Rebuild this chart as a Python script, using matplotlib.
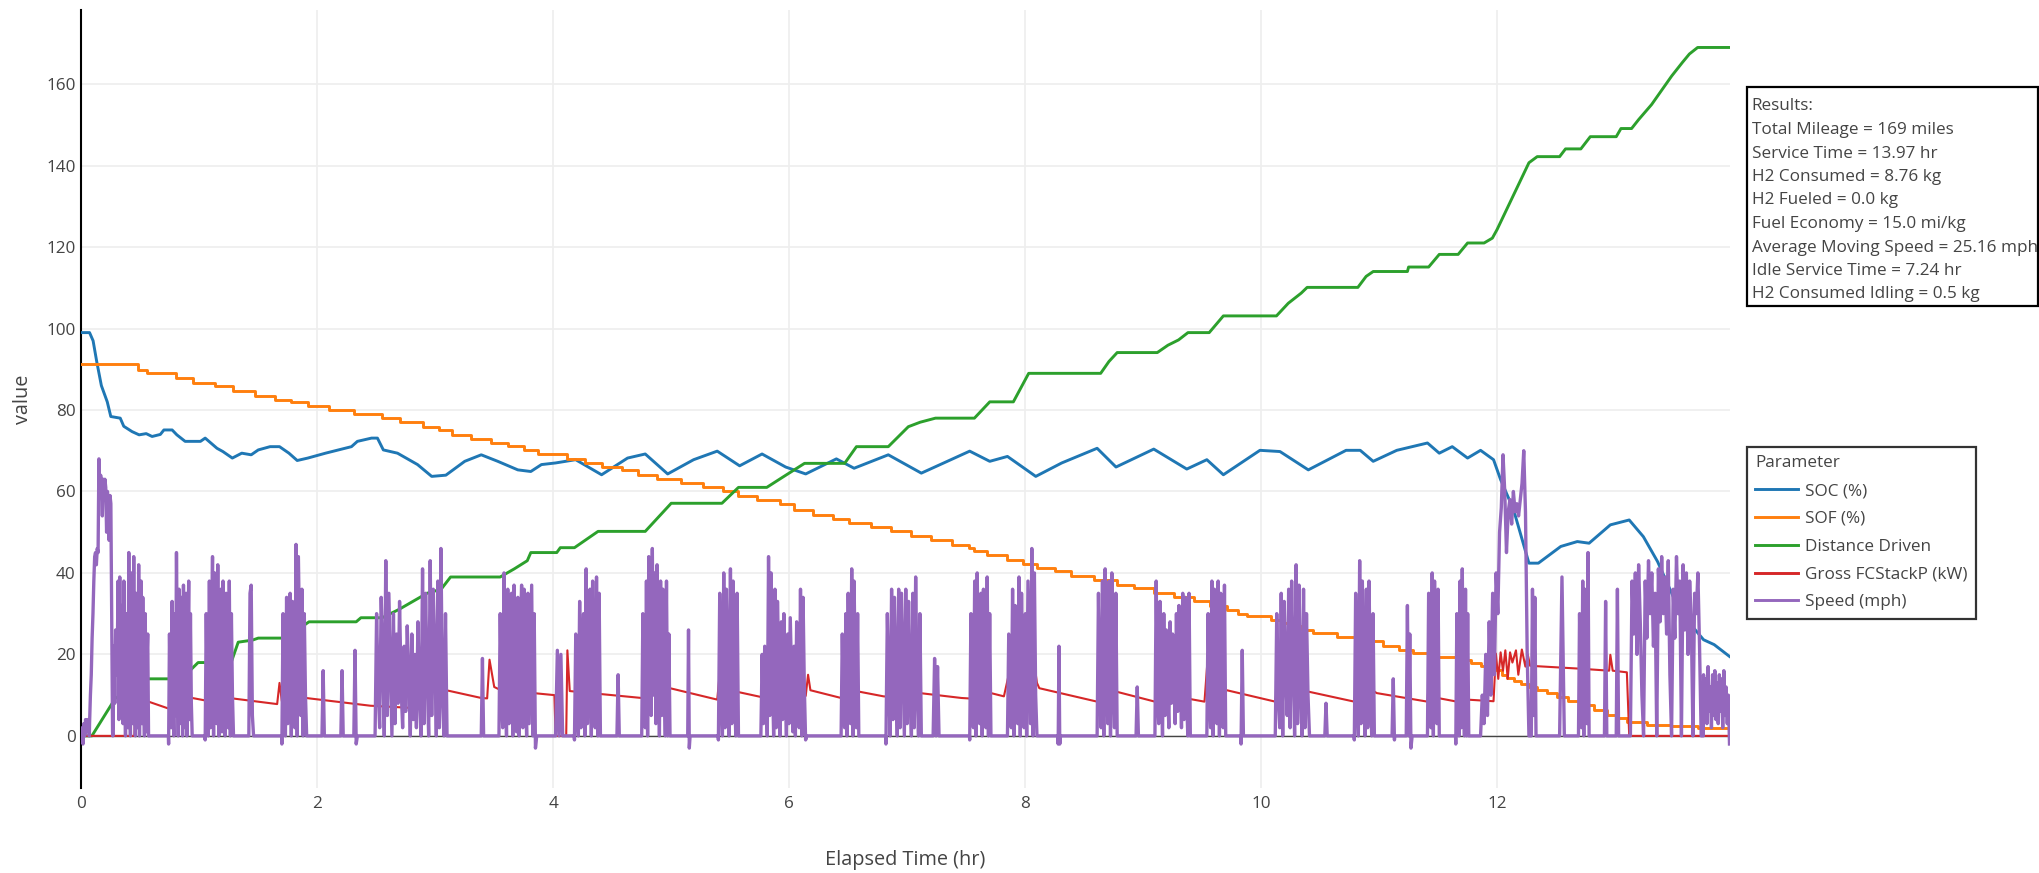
import numpy as np
import matplotlib
matplotlib.use("Agg")
import matplotlib.pyplot as plt
from matplotlib.lines import Line2D
from matplotlib.patches import Rectangle

plt.rcParams['font.family'] = ['Open Sans', 'DejaVu Sans']

# ---------------- data ----------------
series_names = ["SOC (%)", "SOF (%)", "Distance Driven", "Gross FCStackP (kW)", "Speed (mph)"]
series_colors = ["#1f77b4", "#ff7f0e", "#2ca02c", "#d62728", "#9467bd"]

soc_points = [
    (0, 99), (0.07, 99), (0.10, 97), (0.13, 92), (0.17, 86), (0.22, 82), (0.25, 78.4), (0.33, 78),
    (0.36, 76), (0.43, 74.7), (0.49, 73.9), (0.55, 74.2), (0.60, 73.5), (0.67, 74), (0.70, 75.1),
    (0.77, 75.1), (0.81, 73.9), (0.88, 72.3), (1.01, 72.3), (1.05, 73.1), (1.15, 70.6), (1.20, 69.8),
    (1.28, 68.2), (1.36, 69.4), (1.44, 69.0), (1.50, 70.2), (1.60, 71), (1.68, 71), (1.76, 69.4),
    (1.83, 67.6), (1.92, 68.2), (2.07, 69.4), (2.29, 71), (2.34, 72.3), (2.46, 73.1), (2.51, 73.1),
    (2.56, 70.2), (2.68, 69.4), (2.85, 66.6), (2.97, 63.7), (3.09, 64), (3.25, 67.4), (3.39, 69),
    (3.53, 67.4), (3.70, 65.3), (3.81, 64.9), (3.90, 66.6), (4.02, 67), (4.19, 67.8), (4.41, 64.1),
    (4.63, 68.2), (4.78, 69.2), (4.97, 64.3), (5.19, 67.8), (5.39, 69.9), (5.58, 66.3), (5.77, 69.2),
    (5.97, 66), (6.14, 64.3), (6.40, 68), (6.55, 65.7), (6.84, 69), (7.12, 64.5), (7.31, 67),
    (7.53, 69.9), (7.70, 67.4), (7.85, 68.6), (8.09, 63.7), (8.31, 67), (8.61, 70.6), (8.77, 66),
    (9.09, 70.4), (9.37, 65.5), (9.54, 67.8), (9.68, 64.1), (9.99, 70.1), (10.16, 69.8), (10.40, 65.3),
    (10.72, 70.1), (10.84, 70.1), (10.95, 67.4), (11.15, 70.1), (11.41, 71.9), (11.51, 69.4),
    (11.62, 71), (11.75, 68.2), (11.86, 70.1), (11.97, 67.8), (12.03, 62.9), (12.14, 55.5),
    (12.27, 42.4), (12.35, 42.4), (12.54, 46.5), (12.68, 47.7), (12.78, 47.3), (12.96, 51.8),
    (13.12, 53), (13.24, 48.9), (13.36, 42.8), (13.55, 30.5), (13.75, 23.6), (13.84, 22.4), (13.97, 19.5),
]

sof_steps = [
    (0.00, 91.2), (0.48, 89.8), (0.56, 89.1), (0.80, 87.9), (0.95, 86.7), (1.13, 85.9), (1.29, 84.7),
    (1.47, 83.5), (1.64, 82.5), (1.78, 81.9), (1.92, 81.0), (2.10, 80.0), (2.31, 79.0), (2.55, 78.0),
    (2.70, 77.0), (2.90, 75.9), (3.03, 75.0), (3.14, 73.9), (3.30, 72.9), (3.47, 72.0), (3.62, 71.1),
    (3.75, 70.1), (3.87, 69.2), (4.12, 68.0), (4.27, 67.0), (4.41, 66.0), (4.58, 65.2), (4.72, 64.1),
    (4.88, 63.0), (5.08, 62.1), (5.27, 61.1), (5.44, 60.0), (5.57, 58.8), (5.73, 57.8), (5.92, 56.8),
    (6.04, 55.5), (6.20, 54.3), (6.37, 53.2), (6.51, 52.2), (6.69, 51.3), (6.86, 50.2), (7.03, 49.1),
    (7.20, 48.0), (7.38, 46.9), (7.52, 46.1), (7.57, 45.3), (7.68, 44.5), (7.85, 43.2), (7.98, 42.2),
    (8.10, 41.2), (8.25, 40.4), (8.39, 39.3), (8.58, 38.2), (8.78, 37.1), (8.92, 36.3), (9.09, 35.1),
    (9.26, 34.1), (9.43, 33.0), (9.57, 32.0), (9.71, 30.8), (9.80, 30.0), (9.88, 29.4), (10.08, 28.4),
    (10.18, 27.6), (10.25, 26.9), (10.35, 26.0), (10.44, 25.3), (10.64, 24.3), (10.84, 23.2),
    (11.03, 22.1), (11.17, 21.1), (11.29, 20.3), (11.46, 19.4), (11.66, 18.6), (11.78, 17.8),
    (11.86, 17.2), (11.99, 16.2), (12.04, 15.0), (12.08, 14.1), (12.14, 13.4), (12.20, 12.7),
    (12.27, 12.0), (12.34, 11.3), (12.42, 10.4), (12.51, 9.6), (12.60, 8.6), (12.71, 7.6), (12.82, 6.4),
    (12.93, 5.2), (13.02, 4.3), (13.10, 3.5), (13.27, 2.7), (13.47, 2.3), (13.70, 1.9), (13.97, 1.9),
]

distance_points = [
    (0, 0), (0.09, 0), (0.29, 9.3), (0.35, 10), (0.45, 13), (0.57, 14), (0.85, 14), (0.99, 18),
    (1.27, 18), (1.33, 23), (1.45, 23.5), (1.50, 24), (1.73, 24), (1.93, 28), (2.33, 28), (2.37, 29),
    (2.55, 29), (2.69, 31), (2.81, 33), (2.93, 35), (3.05, 36), (3.13, 39), (3.55, 39), (3.67, 41),
    (3.78, 43), (3.81, 45), (4.03, 45), (4.06, 46.2), (4.18, 46.2), (4.38, 50.2), (4.78, 50.2),
    (5.00, 57.1), (5.43, 57.1), (5.57, 61), (5.81, 61), (5.95, 63.6), (6.13, 66.9), (6.47, 66.9),
    (6.57, 71), (6.84, 71), (7.01, 75.9), (7.11, 77), (7.24, 78), (7.57, 78), (7.70, 82), (7.90, 82),
    (8.03, 89), (8.64, 89), (8.71, 91.9), (8.78, 94.1), (9.12, 94.1), (9.21, 95.9), (9.30, 97.2),
    (9.38, 99), (9.56, 99), (9.68, 103.1), (10.13, 103.1), (10.23, 106.2), (10.34, 108.7),
    (10.39, 110.1), (10.82, 110.1), (10.89, 112.8), (10.95, 114), (11.24, 114), (11.25, 115.1),
    (11.42, 115.1), (11.51, 118.2), (11.67, 118.2), (11.75, 121), (11.89, 121), (11.96, 122.2),
    (12.00, 124.3), (12.27, 140.7), (12.34, 142.2), (12.53, 142.2), (12.58, 144.1), (12.71, 144.1),
    (12.79, 147.1), (13.01, 147.1), (13.05, 149.1), (13.14, 149.1), (13.20, 151.3), (13.31, 155),
    (13.48, 162), (13.57, 165.3), (13.63, 167.4), (13.70, 169), (13.97, 169),
]

fc_power_points = [
    (0, 0), (0.45, 0), (0.46, 9.5), (0.73, 6.8), (0.79, 6.7), (0.80, 12), (0.82, 7.5), (0.84, 15.5),
    (0.86, 8), (0.88, 16.5), (0.90, 9.5), (0.94, 9.3), (1.25, 7.6), (1.26, 16), (1.28, 9.2),
    (1.66, 7.8), (1.68, 13), (1.70, 8.5), (1.74, 12.5), (1.76, 9.8), (2.45, 7.4), (2.84, 6.8),
    (2.85, 19.5), (2.87, 12), (2.97, 14.3), (3.00, 11.8), (3.39, 9.3), (3.44, 9.2), (3.46, 18.7),
    (3.50, 12), (3.55, 11.3), (4.01, 10.0), (4.02, 0), (4.11, 0), (4.12, 21), (4.14, 11),
    (4.75, 9.3), (4.80, 9.2), (4.83, 20.2), (4.86, 15), (4.90, 19), (4.95, 12), (4.99, 11.7),
    (5.39, 8.9), (5.42, 17.8), (5.45, 11.5), (5.80, 9.3), (5.83, 19), (5.86, 11.2), (6.14, 9.8),
    (6.16, 15), (6.18, 11.2), (6.44, 9.3), (6.50, 9.2), (6.51, 20.2), (6.53, 11.2), (6.80, 9.7),
    (6.98, 9.3), (7.00, 15.4), (7.02, 10.8), (7.46, 9.3), (7.63, 9), (7.65, 19.3), (7.68, 11),
    (7.71, 10.5), (7.82, 9.7), (7.87, 16.2), (7.89, 10.5), (8.05, 10), (8.07, 19.3), (8.10, 13),
    (8.12, 11.7), (8.61, 8.4), (8.64, 16.9), (8.67, 11), (8.78, 10.8), (9.10, 8.4), (9.12, 10.5),
    (9.52, 8.4), (9.55, 20.2), (9.60, 12), (9.71, 11.2), (10.12, 8.4), (10.16, 17.8), (10.20, 11.5),
    (10.41, 10.8), (10.79, 8.4), (10.83, 17.2), (10.90, 12), (10.98, 10.5), (11.41, 8.4),
    (11.43, 17.2), (11.46, 9.5), (11.66, 8.4), (11.67, 18.4), (11.69, 9.0), (11.97, 8.5),
    (11.99, 20.2), (12.01, 14), (12.03, 20.5), (12.05, 16), (12.07, 21), (12.09, 14), (12.11, 20.5),
    (12.13, 18), (12.16, 21), (12.18, 15), (12.21, 21.2), (12.24, 17), (12.26, 20), (12.28, 17.2),
    (12.70, 16.5), (12.95, 16), (12.96, 19.9), (12.98, 16), (13.10, 15.6), (13.12, 0), (13.97, 0),
]

# speed driving bursts: (start hr, end hr, speed samples across the burst); speed is 0 between bursts
speed_bursts = [
    (0.00, 0.065, [0, 2, -2, 3, 0, 4, 1, 4, 2, 3]),
    (0.07, 0.265, [3, 10, 15, 24, 30, 38, 44, 45, 42, 46, 45, 68, 60, 64, 62, 54, 63, 58, 63, 61, 50,
                   60, 55, 48, 59, 57, 30, 1]),
    (0.27, 0.57, [2, 22, 8, 26, 15, 20, 38, 4, 39, 14, 32, 10, 3, 38, 12, 0, 30, 18, 2, 45, 10, 0, 40,
                  20, 3, 44, 8, 0, 35, 15, 2, 42, 0, 22, 38, 3, 34, 12, 0, 30, 1, 18, 25, 0]),
    (0.74, 0.94, [-2, 25, 10, 2, 33, 15, 0, 30, 5, 45, 20, 0, 36, 3, 25, 34, 0, 37, 12, 2, 35, 0, 22,
                  38, 4, 30, 8, 0]),
    (1.05, 1.29, [-1, 30, 10, 0, 38, 2, 25, 44, 0, 40, 15, 3, 42, 0, 28, 36, 1, 38, 12, 0, 35, 20, 2,
                  38, 0, 30, 10, 0]),
    (1.42, 1.46, [0, 35, 37, 5, 0]),
    (1.70, 1.91, [-2, 30, 8, 0, 34, 3, 20, 35, 0, 33, 15, 2, 47, 0, 44, 25, 5, 36, 0, 30, 10, 0]),
    (2.04, 2.06, [0, 16, 0]),
    (2.20, 2.22, [0, 16, 0]),
    (2.31, 2.34, [0, 21, -2, 0]),
    (2.49, 3.10, [0, 30, 12, 2, 34, 20, 0, 43, 5, 35, 18, 0, 30, 3, 25, 8, 33, 12, 2, 22, 6, 27, 15,
                  0, 25, 4, 20, 2, 28, 10, 0, 41, 3, 35, 15, 0, 43, 5, 36, 20, 0, 38, 2, 46, 10, 0,
                  30, 0]),
    (3.39, 3.41, [0, 19, 0]),
    (3.54, 3.86, [0, 30, 10, 2, 40, 15, 0, 36, 3, 22, 35, 0, 37, 12, 1, 34, 0, 25, 37, 2, 36, 10, 0,
                  35, 3, 20, 37, 0, 30, -3, 0]),
    (4.02, 4.08, [0, 21, 0, 20, 0]),
    (4.18, 4.40, [-1, 25, 8, 0, 33, 2, 20, 30, 0, 41, 3, 15, 36, 0, 38, 12, 2, 39, 0, 35, 0]),
    (4.54, 4.56, [0, 15, 0]),
    (4.75, 4.99, [0, 30, 12, 2, 38, 0, 44, 20, 5, 46, 10, 40, 3, 42, 25, 0, 38, 5, 36, 15, 0, 38, 0,
                  25, 0]),
    (5.14, 5.16, [0, 26, -3, 0]),
    (5.40, 5.57, [-1, 35, 10, 0, 40, 2, 36, 15, 0, 41, 3, 38, 12, 0, 35, 0]),
    (5.76, 6.15, [0, 20, 3, 22, 10, 0, 44, 5, 40, 15, 0, 36, 2, 33, 18, 0, 28, 4, 30, 12, 0, 25, 3,
                  29, 15, 1, 22, 0, 28, 10, 2, 36, 0, 34, 12, -1, 0]),
    (6.44, 6.59, [0, 25, 8, 2, 30, 0, 35, 12, 3, 41, 0, 38, 15, 2, 30, 0]),
    (6.82, 7.12, [-2, 30, 12, 0, 36, 4, 34, 15, 0, 36, 2, 35, 18, 0, 36, 3, 33, 10, 0, 35, 2, 39, 12,
                  0, 30, 0]),
    (7.22, 7.27, [0, 19, 0, 17, 0]),
    (7.53, 7.71, [-1, 30, 10, 2, 38, 0, 40, 15, 3, 35, 0, 36, 12, 2, 39, 0, 30, 0]),
    (7.85, 8.10, [0, 25, 10, 2, 36, 0, 32, 15, 3, 39, 0, 35, 12, 2, 30, 0, 38, 20, 3, 46, 0, 40, 10,
                  0]),
    (8.28, 8.30, [-2, 22, -2, 0]),
    (8.61, 8.78, [0, 35, 10, 2, 38, 0, 41, 15, 3, 38, 0, 40, 12, 2, 35, 0]),
    (8.94, 8.96, [0, 12, 0]),
    (9.10, 9.40, [0, 38, 10, 3, 33, 15, 0, 30, 5, 26, 12, 2, 28, 8, 25, 15, 3, 30, 6, 32, 18, 2, 35,
                  4, 34, 10, 0, 35, 0]),
    (9.54, 9.70, [0, 30, 10, 2, 38, 0, 36, 15, 3, 38, 0, 35, 12, 2, 37, 0]),
    (9.83, 9.85, [-2, 21, 0]),
    (10.12, 10.41, [0, 30, 10, 2, 35, 0, 33, 15, 5, 36, 2, 38, 18, 0, 42, 3, 37, 12, 0, 36, 2, 30,
                    10, 0]),
    (10.54, 10.56, [0, 8, 0]),
    (10.79, 10.96, [-1, 35, 10, 0, 43, 3, 38, 15, 0, 36, 2, 38, 12, 0, 30, 0]),
    (11.11, 11.13, [0, 14, -1]),
    (11.23, 11.28, [0, 32, 0, 25, -3, 0]),
    (11.41, 11.51, [0, 35, 10, 2, 40, 0, 38, 15, 3, 36, 0]),
    (11.65, 11.76, [-2, 30, 8, 0, 38, 2, 41, 12, 0, 36, 0, 30, 0]),
    (11.86, 12.27, [0, 10, 3, 20, 5, 28, 10, 35, 15, 40, 30, 50, 56, 69, 60, 45, 55, 58, 52, 60, 55,
                    57, 54, 58, 62, 70, 55, 20, 0]),
    (12.29, 12.33, [0, 36, 5, 34, 0]),
    (12.53, 12.57, [0, 39, 0]),
    (12.69, 12.78, [0, 30, 10, 2, 38, 0, 36, 15, 3, 45, 0]),
    (12.91, 12.93, [0, 33, 0]),
    (13.01, 13.03, [0, 36, 0]),
    (13.13, 13.73, [0, 38, 25, 40, 20, 42, 28, 10, 0, 38, 24, 43, 30, 40, 22, 35, 0, 41, 28, 44, 30,
                    39, 25, 43, 15, 0, 36, 24, 44, 30, 38, 0, 42, 26, 40, 20, 38, 28, 0, 35, 30, 40,
                    22, 0]),
    (13.75, 13.97, [15, 5, 14, 3, 17, 6, 12, 2, 15, 5, 16, 4, 13, 3, 15, 6, 14, 2, 16, 5, 12, 3, 10,
                    -2]),
]

results_lines = [
    "Results:",
    "Total Mileage = 169 miles",
    "Service Time = 13.97 hr",
    "H2 Consumed = 8.76 kg",
    "H2 Fueled = 0.0 kg",
    "Fuel Economy = 15.0 mi/kg",
    "Average Moving Speed = 25.16 mph",
    "Idle Service Time = 7.24 hr",
    "H2 Consumed Idling = 0.5 kg",
]

x_ticks = [0, 2, 4, 6, 8, 10, 12]
y_ticks = [0, 20, 40, 60, 80, 100, 120, 140, 160]
x_range = (0, 13.97)
y_range = (-12.8, 178.2)

# ---------------- build series ----------------
soc_t, soc_v = zip(*soc_points)
sof_t, sof_v = zip(*sof_steps)
dist_t, dist_v = zip(*distance_points)
fc_t, fc_v = zip(*fc_power_points)

spd_t, spd_v = [], []
for s, e, vals in speed_bursts:
    spd_t.append(s - 0.002)
    spd_v.append(0)
    spd_t.extend(np.linspace(s, e, len(vals)))
    spd_v.extend(vals)
    if e < x_range[1]:
        spd_t.append(e + 0.002)
        spd_v.append(0)

# ---------------- figure ----------------
W, H = 2039, 873
fig = plt.figure(figsize=(W / 100, H / 100), dpi=100)
ax_l, ax_r, ax_t, ax_b = 81.3, 1729.5, 10.0, 788.0
ax = fig.add_axes([ax_l / W, 1 - ax_b / H, (ax_r - ax_l) / W, (ax_b - ax_t) / H])

text_color = "#444444"
lw = 2.1
ax.plot(soc_t, soc_v, color=series_colors[0], lw=lw, zorder=3)
ax.plot(sof_t, sof_v, color=series_colors[1], lw=lw, drawstyle="steps-post", zorder=3)
ax.plot(dist_t, dist_v, color=series_colors[2], lw=lw, zorder=3)
ax.plot(fc_t, fc_v, color=series_colors[3], lw=1.5, zorder=3)
ax.plot(spd_t, spd_v, color=series_colors[4], lw=2.4, zorder=3)

ax.axhline(0, color="#444444", lw=1.0, zorder=2)

ax.set_xlim(*x_range)
ax.set_ylim(*y_range)
ax.set_xticks(x_ticks)
ax.set_yticks(y_ticks)
ax.grid(True, color="#eeeeee", lw=1.2, zorder=0)
ax.set_axisbelow(True)
for side in ["top", "right", "bottom"]:
    ax.spines[side].set_visible(False)
ax.spines["left"].set_color("black")
ax.spines["left"].set_linewidth(1.5)
ax.tick_params(axis="both", length=0, labelsize=12.3, labelcolor=text_color)
ax.tick_params(axis="y", pad=4)
ax.tick_params(axis="x", pad=6)

ax.set_xlabel("Elapsed Time (hr)", fontsize=14.3, color=text_color)
ax.xaxis.set_label_coords(0.5, (ax_b - 860) / (ax_b - ax_t))
ax.xaxis.label.set_va("center")
ax.set_ylabel("value", fontsize=14.3, color=text_color)
ax.yaxis.set_label_coords((22.5 - ax_l) / (ax_r - ax_l), 0.5)
ax.yaxis.label.set_va("center")

# ---------------- results box ----------------
box_fs = 12.35
box_l, box_r, box_t, box_b = 1746.5, 2037.5, 87.3, 306.0
fig.patches.append(Rectangle((box_l / W, 1 - box_b / H), (box_r - box_l) / W, (box_b - box_t) / H,
                             transform=fig.transFigure, facecolor="white", edgecolor="black",
                             lw=1.6, zorder=5))
for i, line in enumerate(results_lines):
    fig.text(1751.7 / W, 1 - (110.5 + i * 23.5) / H, line, fontsize=box_fs, color=text_color,
             ha="left", va="baseline", zorder=6)

# ---------------- legend ----------------
handles = [Line2D([0], [0], color=c, lw=lw) for c in series_colors]
leg = fig.legend(handles, series_names, title="Parameter", loc="upper left",
                 bbox_to_anchor=(1746.7 / W, 1 - 446.7 / H), borderaxespad=0,
                 fontsize=box_fs, title_fontsize=box_fs, frameon=True, fancybox=False,
                 edgecolor="black", handlelength=2.48, handletextpad=0.44, borderpad=0.5,
                 labelspacing=0.69, alignment="left")
leg.get_frame().set_linewidth(1.6)
for t in leg.get_texts():
    t.set_color(text_color)
leg.get_title().set_color(text_color)

fig.savefig("out.png", dpi=100)
